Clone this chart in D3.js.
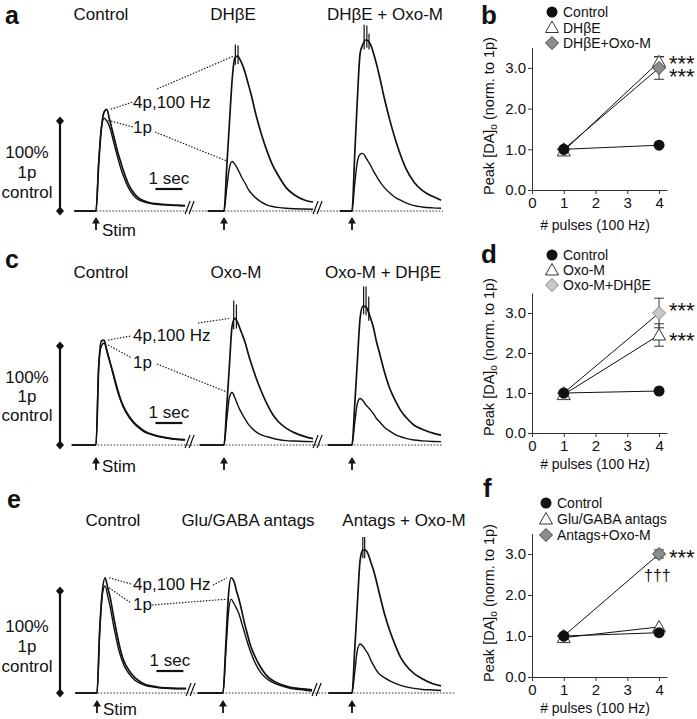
<!DOCTYPE html>
<html><head><meta charset="utf-8">
<script src="https://cdn.jsdelivr.net/npm/d3@7"></script>
<style>
body{margin:0;background:#fff;}
svg{display:block;font-family:"Liberation Sans",Arial,Helvetica,sans-serif;}
</style></head><body>
<svg id="chart" width="697" height="719"></svg>
<script>
// ---------------- DATA ----------------
// time after stimulus (s) for every trace sample
const traceTimes = [0,0.1,0.2,0.3,0.4,0.5,0.6,0.7,0.8,0.9,1.0,1.2,1.4,1.6,1.8,2.0,2.3,2.6,3.0,3.3];
// [DA]o traces, fraction of control 1p peak
// Row a
const aControl1p  = [0,0.55,0.92,1.03,1.0,0.94,0.83,0.71,0.6,0.49,0.4,0.26,0.17,0.12,0.1,0.085,0.072,0.067,0.06,0.057];
const aControl4p  = [0,0.52,0.92,1.1,1.13,1.02,0.9,0.78,0.66,0.56,0.46,0.3,0.2,0.14,0.11,0.09,0.08,0.072,0.065,0.06];
const aDhbe1p     = [0,0.25,0.48,0.55,0.52,0.47,0.41,0.35,0.3,0.24,0.2,0.14,0.095,0.066,0.05,0.04,0.03,0.025,0.022,0.02];
const aDhbe4p     = [0,0.48,0.97,1.45,1.7,1.72,1.68,1.61,1.52,1.41,1.3,1.05,0.84,0.66,0.51,0.4,0.26,0.18,0.12,0.1];
const aDhbeOxo1p  = [0,0.3,0.55,0.63,0.64,0.6,0.55,0.5,0.44,0.39,0.34,0.26,0.2,0.15,0.12,0.09,0.06,0.045,0.035,0.03];
const aDhbeOxo4p  = [0,0.62,1.25,1.75,1.85,1.9,1.89,1.84,1.75,1.64,1.52,1.25,1.01,0.8,0.62,0.47,0.32,0.23,0.16,0.12];
// Row c
const cControl1p  = [0,0.8,1.0,1.03,0.96,0.86,0.75,0.64,0.54,0.46,0.39,0.29,0.22,0.17,0.13,0.11,0.085,0.07,0.055,0.05];
const cControl4p  = [0,0.78,1.05,1.06,0.95,0.85,0.76,0.66,0.56,0.47,0.4,0.3,0.23,0.18,0.14,0.115,0.09,0.075,0.06,0.055];
const cOxo1p      = [0,0.25,0.48,0.53,0.48,0.41,0.35,0.3,0.255,0.21,0.18,0.13,0.1,0.083,0.068,0.056,0.044,0.04,0.036,0.034];
const cOxo4p      = [0,0.38,0.8,1.2,1.28,1.24,1.17,1.1,1.02,0.92,0.83,0.67,0.53,0.41,0.31,0.24,0.17,0.125,0.085,0.065];
const cOxoDhbe1p  = [0,0.22,0.42,0.47,0.45,0.41,0.38,0.35,0.315,0.27,0.24,0.18,0.14,0.105,0.083,0.067,0.05,0.042,0.036,0.034];
const cOxoDhbe4p  = [0,0.4,0.85,1.28,1.4,1.4,1.35,1.27,1.18,1.05,0.95,0.74,0.57,0.45,0.35,0.28,0.2,0.16,0.12,0.1];
// Row e
const eControl1p  = [0,0.6,0.97,1.05,0.95,0.83,0.68,0.55,0.43,0.34,0.27,0.185,0.125,0.095,0.073,0.062,0.05,0.045,0.04,0.04];
const eControl4p  = [0,0.62,1.0,1.13,1.03,0.92,0.77,0.63,0.5,0.39,0.31,0.215,0.15,0.11,0.083,0.07,0.056,0.05,0.046,0.045];
const eAntags1p   = [0,0.38,0.78,0.92,0.88,0.83,0.77,0.68,0.59,0.5,0.42,0.29,0.2,0.145,0.11,0.085,0.06,0.04,0.03,0.02];
const eAntags4p   = [0,0.45,0.95,1.13,1.1,1.0,0.91,0.8,0.68,0.58,0.48,0.35,0.25,0.175,0.13,0.1,0.07,0.05,0.04,0.03];
const eAntagsOxo1p= [0,0.2,0.42,0.48,0.46,0.42,0.38,0.32,0.27,0.225,0.19,0.15,0.12,0.095,0.075,0.06,0.045,0.035,0.03,0.025];
const eAntagsOxo4p= [0,0.42,0.88,1.3,1.4,1.4,1.36,1.28,1.2,1.1,0.99,0.78,0.61,0.47,0.35,0.27,0.19,0.14,0.09,0.07];
// stimulus artifacts on 4p traces: [time (s), top value]
const aArtifacts = [[], [[0.42,1.85],[0.52,1.84]], [[0.45,2.07],[0.55,2.06],[0.63,1.97]]];
const cArtifacts = [[], [[0.36,1.46],[0.46,1.42]], [[0.43,1.6],[0.52,1.6],[0.62,1.5]]];
const eArtifacts = [[], [], [[0.4,1.53],[0.47,1.53]]];
// pre-stimulus baseline start (s)
const aPre = [-0.8,-0.6,-0.45], cPre = [-0.9,-0.9,-0.9], ePre = [-0.8,-0.93,-0.87];
// titles
const aTitles = ["Control","DHβE","DHβE + Oxo-M"];
const cTitles = ["Control","Oxo-M","Oxo-M + DHβE"];
const eTitles = ["Control","Glu/GABA antags","Antags + Oxo-M"];

// Scatter data: peak [DA]o normalised to 1p
const pulses = [1,4];
const bControl = [1.0,1.1],  bDhbe = [0.96,3.15],  bDhbeOxo = [1.0,3.0];
const bControlErr = [0,0],   bDhbeErr = [0,0.12],  bDhbeOxoErr = [0,0.28];
const dControl = [1.0,1.05], dOxo = [0.96,2.45],   dOxoDhbe = [1.0,3.0];
const dControlErr = [0,0],   dOxoErr = [0,0.28],   dOxoDhbeErr = [0,0.37];
const fControl = [1.0,1.08], fAntags = [0.96,1.22], fAntagsOxo = [1.0,3.0];
const fControlErr = [0,0],   fAntagsErr = [0,0],    fAntagsOxoErr = [0,0.1];
const bLegend = ["Control","DHβE","DHβE+Oxo-M"];
const dLegend = ["Control","Oxo-M","Oxo-M+DHβE"];
const fLegend = ["Control","Glu/GABA antags","Antags+Oxo-M"];
const yTicks = [0,1,2,3];
const xTicks = [0,1,2,3,4];

// ---------------- DRAW ----------------
const svg = d3.select("#chart");
const SEC = 27; // px per second
const INK = "#111";

function peakOf(arr){ let m=0; arr.forEach((v,i)=>{ if(v>arr[m]) m=i; }); return [traceTimes[m], arr[m]]; }
function valueAt(arr,t){ return d3.scaleLinear().domain(traceTimes).range(arr)(t); }

function drawTraceRow(cfg){
  const g = svg.append("g");
  const y = d3.scaleLinear().domain([0,1]).range([cfg.base, cfg.top]);
  const xs = cfg.stimX.map(s => d3.scaleLinear().domain([0,1]).range([s, s+SEC]));
  g.append("line").attr("x1",cfg.dotX[0]).attr("x2",cfg.dotX[1]).attr("y1",y(0)).attr("y2",y(0))
    .attr("stroke","#333").attr("stroke-width",1).attr("stroke-dasharray","1.6,1.6");
  g.append("text").attr("x",cfg.letterX).attr("y",cfg.letterY).attr("font-size",25).attr("font-weight","bold").attr("fill",INK).text(cfg.letter);
  cfg.titles.forEach((t,i)=>{
    g.append("text").attr("x",cfg.titleX[i]).attr("y",cfg.titleY).attr("text-anchor","middle").attr("font-size",17).attr("fill",INK).text(t);
  });
  cfg.traces.forEach((pair,i)=>{
    const x = xs[i];
    const line = d3.line().x(d=>x(d[0])).y(d=>y(d[1])).curve(d3.curveMonotoneX);
    pair.forEach((arr,k)=>{
      const pts = [[cfg.pre[i],0]].concat(arr.map((v,j)=>[traceTimes[j],v]));
      g.append("path").attr("d",line(pts)).attr("fill","none").attr("stroke",INK)
        .attr("stroke-width",k===1?1.7:1.4).attr("stroke-linejoin","round");
    });
    cfg.artifacts[i].forEach(a=>{
      const v = valueAt(pair[1], a[0]);
      g.append("line").attr("x1",x(a[0])).attr("x2",x(a[0])).attr("y1",y(v-0.08)).attr("y2",y(a[1]))
        .attr("stroke",INK).attr("stroke-width",1.2);
    });
    const ax = x(0);
    g.append("line").attr("x1",ax).attr("x2",ax).attr("y1",cfg.arrowY+4).attr("y2",cfg.arrowY+13).attr("stroke",INK).attr("stroke-width",1.8);
    g.append("path").attr("d",`M${ax},${cfg.arrowY} L${ax-4},${cfg.arrowY+6.5} L${ax+4},${cfg.arrowY+6.5} Z`).attr("fill",INK);
    if(i<2){
      const bx = x(traceTimes[traceTimes.length-1]), by = y(0);
      [0,4].forEach(o=>{
        g.append("line").attr("x1",bx+o).attr("y1",by+3).attr("x2",bx+o+5).attr("y2",by-10).attr("stroke",INK).attr("stroke-width",1.2);
      });
    }
  });
  g.append("text").attr("x",xs[0](0)+6).attr("y",cfg.stimTextY).attr("font-size",17).attr("fill",INK).text("Stim");
  g.append("line").attr("x1",60).attr("x2",60).attr("y1",y(0)).attr("y2",y(1)).attr("stroke",INK).attr("stroke-width",2.2);
  [0,1].forEach(v=>{
    const yy = y(v);
    g.append("path").attr("d",`M60,${yy-4.5} L64,${yy} L60,${yy+4.5} L56,${yy} Z`).attr("fill",INK);
  });
  ["100%","1p","control"].forEach((t,i)=>{
    g.append("text").attr("x",27).attr("y",cfg.scaleTextY[i]).attr("text-anchor","middle").attr("font-size",17).attr("fill",INK).text(t);
  });
  const sx0 = xs[0](2.2), sx1 = xs[0](3.2);
  g.append("line").attr("x1",sx0).attr("x2",sx1).attr("y1",cfg.secY).attr("y2",cfg.secY).attr("stroke",INK).attr("stroke-width",2.2);
  g.append("text").attr("x",(sx0+sx1)/2).attr("y",cfg.secY-5).attr("text-anchor","middle").attr("font-size",17).attr("fill",INK).text("1 sec");
  g.append("text").attr("x",133).attr("y",cfg.lab4pY).attr("font-size",17).attr("fill",INK).text("4p,100 Hz");
  g.append("text").attr("x",133).attr("y",cfg.lab1pY).attr("font-size",17).attr("fill",INK).text("1p");
  const c4 = peakOf(cfg.traces[0][1]), c1 = peakOf(cfg.traces[0][0]);
  const d4 = peakOf(cfg.traces[1][1]), d1 = peakOf(cfg.traces[1][0]);
  const dot = (x1,y1,x2,y2)=> g.append("line").attr("x1",x1).attr("y1",y1).attr("x2",x2).attr("y2",y2)
      .attr("stroke","#222").attr("stroke-width",1.2).attr("stroke-dasharray","1.5,1.5");
  dot(xs[0](c4[0])+4, y(c4[1]), cfg.conn4[0][0], cfg.conn4[0][1]);
  dot(cfg.conn4[1][0], cfg.conn4[1][1], xs[1](d4[0])-4, y(d4[1]));
  dot(xs[0](c1[0])+4, y(c1[1])+2, cfg.conn1[0][0], cfg.conn1[0][1]);
  dot(cfg.conn1[1][0], cfg.conn1[1][1], xs[1](d1[0])-4, y(d1[1]));
}

drawTraceRow({letter:"a",letterX:5,letterY:24,titles:aTitles,titleX:[101,233,385],titleY:20,
  base:211,top:121,stimX:[96,224,352],dotX:[74,443],pre:aPre,
  traces:[[aControl1p,aControl4p],[aDhbe1p,aDhbe4p],[aDhbeOxo1p,aDhbeOxo4p]],artifacts:aArtifacts,
  arrowY:217,stimTextY:236,scaleTextY:[158,178,198],secY:189,lab4pY:108,lab1pY:133,
  conn4:[[133,102],[157,89]],conn1:[[133,127],[155,132]]});
drawTraceRow({letter:"c",letterX:5,letterY:268,titles:cTitles,titleX:[101,236,383],titleY:278,
  base:445,top:346,stimX:[96,224,352],dotX:[72,443],pre:cPre,
  traces:[[cControl1p,cControl4p],[cOxo1p,cOxo4p],[cOxoDhbe1p,cOxoDhbe4p]],artifacts:cArtifacts,
  arrowY:457,stimTextY:472,scaleTextY:[383,402,421],secY:423,lab4pY:341,lab1pY:368,
  conn4:[[131,336],[198,323]],conn1:[[132,358],[157,364]]});
drawTraceRow({letter:"e",letterX:7,letterY:508,titles:eTitles,titleX:[113,248,404],titleY:526,
  base:693,top:591,stimX:[97,223,352],dotX:[75,455],pre:ePre,
  traces:[[eControl1p,eControl4p],[eAntags1p,eAntags4p],[eAntagsOxo1p,eAntagsOxo4p]],artifacts:eArtifacts,
  arrowY:700,stimTextY:715,scaleTextY:[632,652,672],secY:671,lab4pY:590,lab1pY:610,
  conn4:[[131,584],[213,585]],conn1:[[131,603],[152,605]]});

// ---------- scatter panels ----------
function marker(g, type, cx, cy, fill){
  if(type==="circle"){
    g.append("circle").attr("cx",cx).attr("cy",cy).attr("r",5.5).attr("fill",INK);
  } else if(type==="triangle"){
    g.append("path").attr("d",`M${cx},${cy-6.5} L${cx+6.5},${cy+5} L${cx-6.5},${cy+5} Z`)
      .attr("fill","#fff").attr("stroke","#333").attr("stroke-width",1);
  } else {
    g.append("path").attr("d",`M${cx},${cy-6.5} L${cx+6.5},${cy} L${cx},${cy+6.5} L${cx-6.5},${cy} Z`)
      .attr("fill",fill).attr("stroke",fill==="#c8c8c8"?"#888":"#444").attr("stroke-width",1);
  }
}

function drawScatter(cfg){
  const g = svg.append("g");
  const x = d3.scaleLinear().domain([0,4.25]).range([532,667]);
  const y = d3.scaleLinear().domain([0,3.5]).range([cfg.y0, cfg.y0-3.5*cfg.unit]);
  g.append("text").attr("x",cfg.letterX).attr("y",cfg.letterY).attr("font-size",26).attr("font-weight","bold").attr("fill",INK).text(cfg.letter);
  const xa = g.append("g").attr("transform",`translate(0,${cfg.y0})`)
    .call(d3.axisBottom(x).tickValues(xTicks).tickFormat(d3.format("d")).tickSizeInner(4).tickSizeOuter(0).tickPadding(3));
  const ya = g.append("g").attr("transform","translate(532,0)")
    .call(d3.axisLeft(y).tickValues(yTicks).tickFormat(d3.format(".1f")).tickSizeInner(4).tickSizeOuter(0).tickPadding(2));
  [xa,ya].forEach(a=>{
    a.selectAll("path,line").attr("stroke","#333").attr("stroke-width",1);
    a.selectAll("text").attr("font-size",15).attr("fill",INK).attr("font-family","Liberation Sans, Arial, sans-serif");
  });
  g.append("text").attr("x",595).attr("y",cfg.xTitleY).attr("text-anchor","middle").attr("font-size",14).attr("fill",INK).text("# pulses (100 Hz)");
  const yt = g.append("text").attr("transform",`translate(494,${cfg.yTitleY}) rotate(-90)`).attr("text-anchor","middle").attr("font-size",14.5).attr("fill",INK);
  yt.append("tspan").text("Peak [DA]");
  yt.append("tspan").attr("font-size",10).attr("dy",3).text("o");
  yt.append("tspan").attr("dy",-3).text(" (norm. to 1p)");
  cfg.series.forEach(s=>{
    g.append("path").attr("d",d3.line().x((d,i)=>x(pulses[i])).y(d=>y(d))(s.values))
      .attr("fill","none").attr("stroke",INK).attr("stroke-width",1);
  });
  cfg.series.forEach(s=>{
    s.values.forEach((v,i)=>{
      const e = s.err[i]; if(!e) return;
      const xx = x(pulses[i]);
      g.append("line").attr("x1",xx).attr("x2",xx).attr("y1",y(v-e)).attr("y2",y(v+e)).attr("stroke","#333").attr("stroke-width",1);
      [v-e,v+e].forEach(ev=> g.append("line").attr("x1",xx-5).attr("x2",xx+5).attr("y1",y(ev)).attr("y2",y(ev)).attr("stroke","#333").attr("stroke-width",1));
    });
  });
  ["triangle","diamond","circle"].forEach(type=>{
    cfg.series.filter(s=>s.type===type).forEach(s=>{
      s.values.forEach((v,i)=> marker(g,type,x(pulses[i]),y(v),s.fill));
    });
  });
  cfg.series.forEach((s,i)=>{
    const ly = cfg.legY[i];
    marker(g,s.type,cfg.legX,ly,s.fill);
    g.append("text").attr("x",cfg.legX+11).attr("y",ly).attr("dy","0.36em").attr("font-size",14).attr("fill",INK).text(cfg.legend[i]);
  });
  const st = g.append("text").attr("font-size",22).attr("fill",INK);
  cfg.stars.forEach((sy,i)=>{
    st.append("tspan").attr("x",669).attr("y",sy).text("***");
  });
  if(cfg.dagger){
    g.append("text").attr("x",644).attr("y",cfg.dagger).attr("font-size",16).attr("fill",INK).text("†††");
  }
}

drawScatter({letter:"b",letterX:481,letterY:24,y0:190,unit:40.7,xTitleY:230,yTitleY:116,
  legend:bLegend,legX:552,legY:[12,27.5,43],stars:[71,84],
  series:[{type:"circle",values:bControl,err:bControlErr},
          {type:"triangle",values:bDhbe,err:bDhbeErr},
          {type:"diamond",values:bDhbeOxo,err:bDhbeOxoErr,fill:"#8c8c8c"}]});
drawScatter({letter:"d",letterX:481,letterY:263,y0:433,unit:40,xTitleY:469,yTitleY:357,
  legend:dLegend,legX:552,legY:[255,270,285],stars:[318,348],
  series:[{type:"circle",values:dControl,err:dControlErr},
          {type:"triangle",values:dOxo,err:dOxoErr},
          {type:"diamond",values:dOxoDhbe,err:dOxoDhbeErr,fill:"#c8c8c8"}]});
drawScatter({letter:"f",letterX:483,letterY:497,y0:677,unit:41,xTitleY:713,yTitleY:603,
  legend:fLegend,legX:546,legY:[503,519,535],stars:[565],dagger:581,
  series:[{type:"circle",values:fControl,err:fControlErr},
          {type:"triangle",values:fAntags,err:fAntagsErr},
          {type:"diamond",values:fAntagsOxo,err:fAntagsOxoErr,fill:"#8c8c8c"}]});
</script>
</body></html>
